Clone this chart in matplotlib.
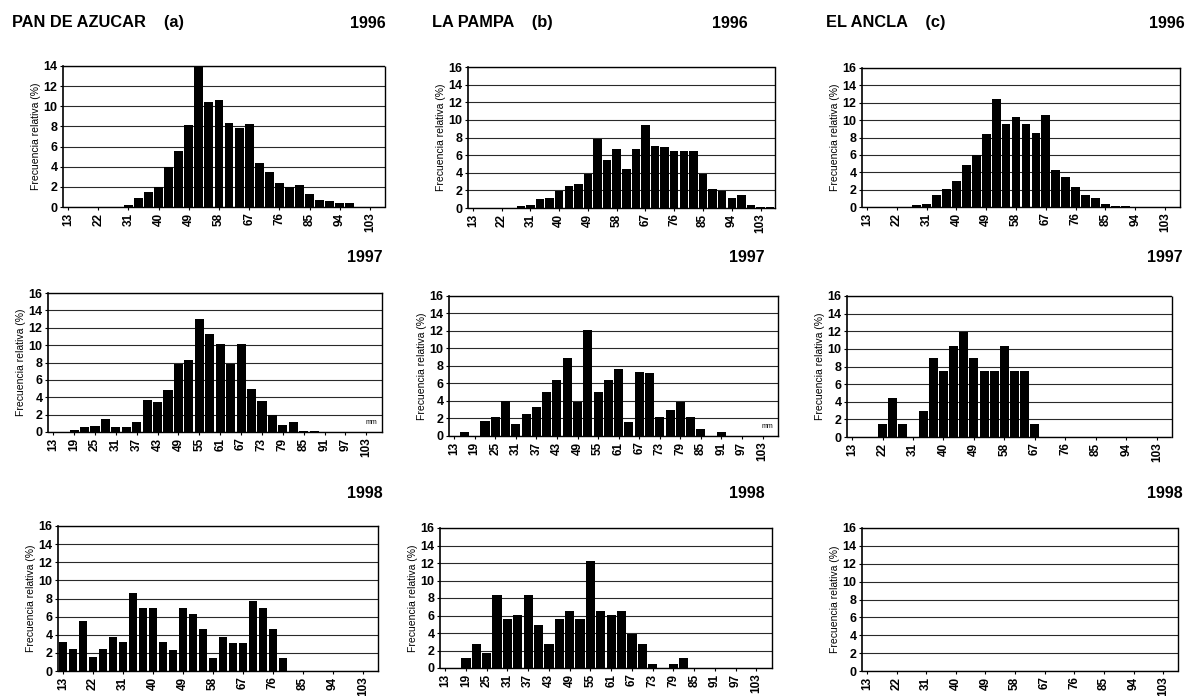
import matplotlib
matplotlib.use("Agg")
import matplotlib.pyplot as plt
import numpy as np

plt.rcParams['font.family'] = ['Liberation Sans', 'DejaVu Sans']

# Size classes (mm), bin width 3
classes = list(range(13, 107, 3))  # 13..106, 32 classes

def full(d):
    return [d.get(c, 0.0) for c in classes]

# Pan de Azucar (a)
pa_1996 = full({31: 0.2, 34: 0.9, 37: 1.5, 40: 2.0, 43: 4.0, 46: 5.6, 49: 8.1, 52: 14.0,
                55: 10.4, 58: 10.6, 61: 8.3, 64: 7.8, 67: 8.2, 70: 4.4, 73: 3.5, 76: 2.4,
                79: 2.0, 82: 2.2, 85: 1.3, 88: 0.7, 91: 0.55, 94: 0.4, 97: 0.4})
pa_1997 = full({19: 0.2, 22: 0.6, 25: 0.7, 28: 1.5, 31: 0.6, 34: 0.6, 37: 1.15, 40: 3.7,
                43: 3.5, 46: 4.8, 49: 7.85, 52: 8.3, 55: 13.0, 58: 11.3, 61: 10.1, 64: 7.8,
                67: 10.1, 70: 5.0, 73: 3.6, 76: 1.95, 79: 0.8, 82: 1.1, 85: 0.08, 88: 0.08,
                94: 0.05, 97: 0.05})
pa_1998 = full({13: 3.25, 16: 2.4, 19: 5.5, 22: 1.5, 25: 2.4, 28: 3.8, 31: 3.15, 34: 8.6,
                37: 6.95, 40: 6.95, 43: 3.15, 46: 2.3, 49: 6.95, 52: 6.3, 55: 4.6, 58: 1.45,
                61: 3.8, 64: 3.1, 67: 3.1, 70: 7.7, 73: 6.95, 76: 4.6, 79: 1.45})

# La Pampa (b)
lp_1996 = full({28: 0.2, 31: 0.35, 34: 1.0, 37: 1.15, 40: 1.9, 43: 2.45, 46: 2.75, 49: 3.9,
                52: 7.85, 55: 5.5, 58: 6.65, 61: 4.45, 64: 6.65, 67: 9.4, 70: 7.0, 73: 6.9,
                76: 6.5, 79: 6.5, 82: 6.5, 85: 3.85, 88: 2.15, 91: 1.9, 94: 1.1, 97: 1.45,
                100: 0.3, 103: 0.15, 106: 0.15})
lp_1997 = full({16: 0.5, 22: 1.7, 25: 2.2, 28: 4.0, 31: 1.35, 34: 2.5, 37: 3.35, 40: 5.05,
                43: 6.45, 46: 8.95, 49: 3.9, 52: 12.1, 55: 5.05, 58: 6.45, 61: 7.65, 64: 1.6,
                67: 7.3, 70: 7.25, 73: 2.15, 76: 3.0, 79: 3.9, 82: 2.15, 85: 0.8, 91: 0.42})
lp_1998 = full({19: 1.2, 22: 2.7, 25: 1.7, 28: 8.3, 31: 5.6, 34: 6.1, 37: 8.3, 40: 4.95,
                43: 2.7, 46: 5.6, 49: 6.55, 52: 5.6, 55: 12.2, 58: 6.55, 61: 6.1, 64: 6.55,
                67: 3.85, 70: 2.7, 73: 0.5, 79: 0.5, 82: 1.1})

# El Ancla (c)
ea_1996 = full({28: 0.2, 31: 0.38, 34: 1.4, 37: 2.1, 40: 3.05, 43: 4.8, 46: 5.95, 49: 8.35,
                52: 12.4, 55: 9.5, 58: 10.4, 61: 9.5, 64: 8.55, 67: 10.55, 70: 4.3, 73: 3.4,
                76: 2.35, 79: 1.35, 82: 1.05, 85: 0.38, 88: 0.15, 91: 0.15})
ea_1997 = full({22: 1.5, 25: 4.45, 28: 1.5, 34: 3.0, 37: 9.0, 40: 7.5, 43: 10.3, 46: 11.9,
                49: 9.0, 52: 7.45, 55: 7.45, 58: 10.3, 61: 7.5, 64: 7.5, 67: 1.5})
ea_1998 = full({})

site_titles = ["PAN DE AZUCAR    (a)", "LA PAMPA    (b)", "EL ANCLA    (c)"]
years = ["1996", "1997", "1998"]
data = [[pa_1996, lp_1996, ea_1996],
        [pa_1997, lp_1997, ea_1997],
        [pa_1998, lp_1998, ea_1998]]
label_step = [[3, 3, 3], [2, 2, 3], [3, 2, 3]]
ymax = [[14, 16, 16], [16, 16, 16], [16, 16, 16]]

W, H = 1196, 696
fig = plt.figure(figsize=(W / 100, H / 100), dpi=100)

# axes boxes in pixels: (left, top, right, bottom)
boxes = [
    [(63, 66, 385, 207), (468, 67, 775, 208), (862, 68, 1180, 207)],
    [(48, 293, 382, 432), (449, 296, 778, 436), (847, 296, 1172, 437)],
    [(58, 526, 378, 671), (440, 528, 772, 668), (862, 528, 1178, 671)],
]
year_pos = [
    [(386, 23), (748, 23), (1185, 23)],
    [(383, 258), (765, 258), (1183, 258)],
    [(383, 493), (765, 493), (1183, 493)],
]
title_pos = [(12, 23), (432, 23), (826, 23)]

x = np.arange(len(classes))
for r in range(3):
    for c in range(3):
        l, t, rr, b = boxes[r][c]
        ax = fig.add_axes([l / W, 1 - b / H, (rr - l) / W, (b - t) / H])
        ax.bar(x, data[r][c], width=0.88, color='black', edgecolor='none', zorder=3)
        ax.set_xlim(-0.5, len(classes) - 0.5)
        ax.set_ylim(0, ymax[r][c])
        ax.set_yticks(range(0, ymax[r][c] + 1, 2))
        ax.yaxis.grid(True, color='#2a2a2a', linewidth=0.8, zorder=0)
        ax.set_axisbelow(True)
        step = label_step[r][c]
        ax.set_xticks(x[::step])
        ax.set_xticklabels([str(classes[i]) for i in x[::step]], rotation=90,
                           fontsize=8.5, fontweight='bold')
        for lab in ax.get_yticklabels():
            lab.set_fontsize(9)
            lab.set_fontweight('bold')
        ax.tick_params(axis='both', length=2, width=0.8, pad=2)
        ax.set_ylabel("Frecuencia relativa (%)", fontsize=7.5, labelpad=2)
        for side in ['top', 'right', 'bottom']:
            ax.spines[side].set_linestyle((0, (1, 1)))
            ax.spines[side].set_linewidth(1.0)
        ax.spines['left'].set_linewidth(1.2)
        yx, yy = year_pos[r][c]
        fig.text(yx / W, 1 - yy / H, years[r], ha='right', va='center',
                 fontsize=11.5, fontweight='bold')
        if r == 1 and c in (0, 1):
            ax.text(0.985, 0.04, "mm", transform=ax.transAxes, ha='right', va='bottom',
                    fontsize=5)

for c in range(3):
    tx, ty = title_pos[c]
    fig.text(tx / W, 1 - ty / H, site_titles[c], ha='left', va='center',
             fontsize=11.8, fontweight='bold')

fig.savefig("out.png", dpi=100)
